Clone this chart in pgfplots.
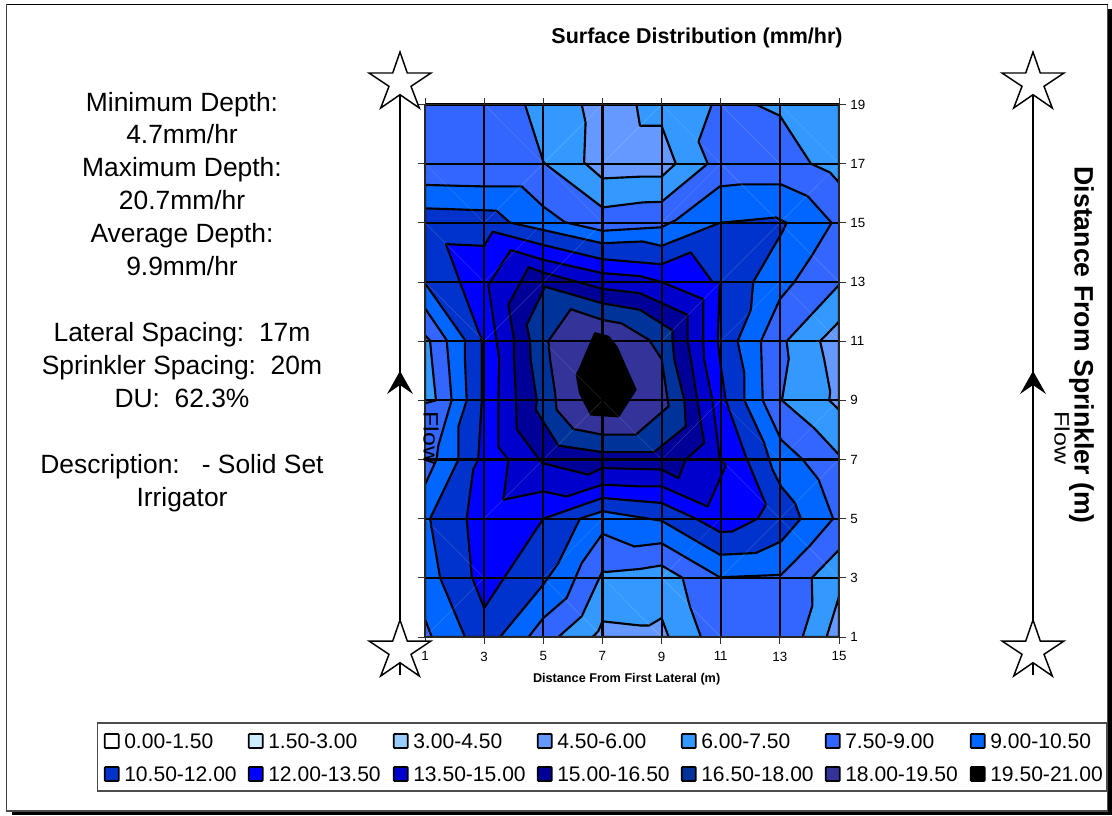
\documentclass[border=0pt]{standalone}
\usepackage{pgfplots}
\usepackage{fontspec}
\setmainfont{Liberation Sans}
\pgfplotsset{compat=1.18}
\definecolor{c00}{HTML}{FFFFFF}
\definecolor{c15}{HTML}{CCECFF}
\definecolor{c30}{HTML}{99CCFF}
\definecolor{c45}{HTML}{6699FF}
\definecolor{c60}{HTML}{3399FF}
\definecolor{c75}{HTML}{3366FF}
\definecolor{c90}{HTML}{0066FF}
\definecolor{c105}{HTML}{0033CC}
\definecolor{c120}{HTML}{0000FF}
\definecolor{c135}{HTML}{0000CC}
\definecolor{c150}{HTML}{000099}
\definecolor{c165}{HTML}{003399}
\definecolor{c180}{HTML}{333399}
\definecolor{c195}{HTML}{000000}
\newcommand{\fsize}[1]{\fontsize{#1}{#1}\selectfont}
\newcommand{\mystar}[2]{%
 \draw[fill=white,line width=1.1pt,line join=miter] (#1,#2) -- ++(7.3,21) -- ++(23.7,0) -- ++(-20,13.3) -- ++(8.3,21.7) -- ++(-19.3,-13.3) -- ++(-19.3,13.3) -- ++(8.3,-21.7) -- ++(-20,-13.3) -- ++(23.7,0) -- cycle;}
\newcommand{\flowline}[1]{%
 \draw[line width=2.1pt,black!55] (#1,385) -- (#1,499);
 \draw[line width=1.1pt] (#1,95) -- (#1,675);
 \fill (#1,371) -- (#1-13,394) -- (#1,385) -- (#1+13,394) -- cycle;
 \mystar{#1}{52}
 \mystar{#1}{620}}
\newcommand{\legitem}[4]{%
 \draw[fill=#3,line width=1.25pt,rounded corners=0.6pt] (#1-0.3,#2-7) rectangle (#1+13.7,#2+7);
 \node[anchor=west,inner sep=0pt] at (#1+19,#2) {\fsize{15.8}#4};}
\newcommand{\side}[2]{\node[anchor=base,inner sep=0pt] at (182,#1+9) {\fsize{19.8}#2};}
\tikzset{contour/.style={draw=black,line width=1.6pt,line join=round,mark=none}}
\begin{document}
\begin{tikzpicture}[x=0.75pt,y=-0.75pt]
\useasboundingbox (0,0) rectangle (1112,815);
% shadow and frame
\fill (12,9) rectangle (1112,815);
\draw[fill=white,line width=0.9pt,draw=black!70] (6.5,4.5) rectangle (1107.5,811);
\draw[line width=1pt] (6.5,4.5) -- (1107.5,4.5);
\draw[line width=1.2pt,black!75] (6.5,4.5) -- (6.5,811);
\coordinate (A) at (425,637);
\begin{axis}[
 at={(A)},anchor=south west,scale only axis,width=310.5pt,height=399.4pt,
 xmin=1,xmax=15,ymin=1,ymax=19,
 xtick={1,3,...,15},ytick={1,3,...,19},
 yticklabel pos=right,tick align=outside,
 major tick length=5pt,
 axis on top,grid=major,
 grid style={black,line width=1.6pt},
 axis line style={black!85,line width=1.3pt},
 tick style={black!80,line width=0.7pt},
 unbounded coords=jump,
 every x tick label/.append style={font=\fsize{10},yshift=-2.5pt},
 every y tick label/.append style={font=\fsize{10}},
 /pgf/number format/assume math mode=true,
 title={\bfseries\fsize{16.1}Surface Distribution (mm/hr)},
 title style={at={(axis description cs:0.657,1.109)},anchor=center},
 xlabel={\bfseries\fsize{9.5}Distance From First Lateral (m)},
 xlabel style={at={(axis description cs:0.487,-0.079)},anchor=center},
 ylabel={\bfseries\fsize{20}Distance From Sprinkler (m)},
 ylabel style={at={(axis description cs:1.586,0.548)},rotate=180,anchor=center},
]
% 7.50-9.00 background
\addplot[fill=c75,draw=none,mark=none] coordinates {(1,1)(15,1)(15,19)(1,19)} --cycle;
% 6.00-7.50 patches
\addplot[contour,fill=c60] coordinates {(4.38,19)(5,17.07)(5.11,16.96)(7,15.52)(8.36,15.69)(9,15.71)(10.56,17)(10.25,17.75)(10.7,19)} --cycle;
\addplot[contour,fill=c60] coordinates {(12.19,19)(13,18.62)(14.05,17)(14.7,16.7)(15,16.36)(15,19)} --cycle;
\addplot[contour,fill=c60] coordinates {(15,12.9)(13.23,11)(13.3,10.4)(13.07,9)(14.16,8.06)(15,7.16)} --cycle;
\addplot[contour,fill=c60] coordinates {(15,3.95)(14.08,3)(14.1,2.06)(13.77,1)(15,1)} --cycle;
\addplot[contour,fill=c60] coordinates {(5.51,1)(6.3,1.7)(7,3.22)(7.14,3.2)(8.27,3.3)(9,3.42)(9.71,3)(9.94,2.09)(10.33,1)} --cycle;
\addplot[contour,fill=c60] coordinates {(1,11.2)(1.17,11.02)(1.23,10.38)(1.37,9)(1,8.9)} --cycle;
% 4.50-6.00 patches
\addplot[contour,fill=c45] coordinates {(6.3,19)(6.43,18.39)(6.38,17.04)(7,16.5)(8.27,16.56)(9,16.56)(9.48,17)(9,18.28)(8.27,18.28)(8.15,19)} --cycle;
\addplot[contour,fill=c45] coordinates {(15,11.66)(14.36,11)(14.5,10.38)(14.7,9.3)(14.67,9)(15,8.68)} --cycle;
\addplot[contour,fill=c45] coordinates {(15,2.37)(14.58,1)(15,1)} --cycle;
\addplot[contour,fill=c45] coordinates {(6.67,1)(6.86,1.2)(7,1.53)(8.27,1.39)(8.58,1.39)(9,1.64)(9.24,1)} --cycle;
% 9.00-10.50
\addplot[contour,fill=c90] coordinates {(1,16.28)(3,16.23)(4.27,16.23)(5,15.55)(5.73,15.02)(7,14.73)(9,14.85)(9.48,15.09)(10.97,16.23)(11.68,16.3)(13.04,16.3)(13.94,15.9)(14.75,15)(14.1,13.92)(13.49,13)(13,12.42)(12.36,11)(12.38,10.38)(12.42,9)(13.04,7.67)(13.77,7)(14.31,6.32)(14.8,5)(13.99,4.06)(13.04,3.1)(10.97,3.02)(9,4.17)(8.08,4.06)(7,4.49)(6.3,3.5)(5.79,2.32)(5,1.64)(4.5,1)(1.23,1)(1,1.6)(1,6.15)(1.39,7)(1.45,7.47)(1.9,9)(1.79,10.38)(1.73,11.04)(1,12.11)} --cycle;
% 10.50-12.00
\addplot[contour,fill=c105] coordinates {(1,15.49)(3.42,15.41)(3.87,15.01)(7,14.31)(8.36,14.37)(9,14.22)(10.97,15)(12.87,15.18)(13.23,15)(13.09,14.7)(12.1,13)(12.02,12.06)(11.57,11)(11.8,9.92)(11.8,9)(12.47,7.56)(12.75,6.66)(13.04,6.09)(13.51,5.53)(13.71,5)(13.04,4.23)(12.19,3.84)(10.97,3.78)(9,4.93)(7,5.25)(6.24,5)(5.51,3.5)(5,2.77)(3.54,1)(2.35,1)(1.51,3)(1.17,5)(2.13,7)(2.13,8.12)(2.41,9)(2.35,10.38)(2.35,11.04)(1,12.96)} --cycle;
% 12.00-13.50
\addplot[contour,fill=c120] coordinates {(1.71,14.28)(3,14.22)(3.29,14.7)(5,14.25)(7,13.77)(9,13.6)(9.99,14)(10.72,13)(10.97,13)(10.9,11)(10.97,10.38)(11.17,9)(11.85,7.1)(12.53,5.47)(12.25,5)(11.4,4.57)(10.97,4.55)(10.16,5)(9,5.53)(7,5.7)(5,5)(3,1.98)(2.58,3.05)(2.41,5)(2.63,6.66)(2.8,7)(2.92,9)(2.92,11.04)(2.18,13)} --cycle;
% 13.50-15.00
\addplot[contour,fill=c135] coordinates {(3.9,14.08)(5,13.75)(7,13.3)(8.27,13.2)(9,13)(10.41,12.42)(10.41,11)(10.44,10.38)(10.72,9)(10.97,7)(11.18,6.82)(10.56,5.41)(9,6.09)(8.27,6.09)(7,6.15)(5.79,5.75)(5,5.92)(3.65,5.64)(3.82,7)(3.48,7.42)(3.48,9)(3.51,10.38)(3.42,11)(3.14,12.9)} --cycle;
% 15.00-16.50
\addplot[contour,fill=c150] coordinates {(4.5,13.5)(5,13.32)(7,12.77)(8.27,12.62)(8.53,12.5)(9.88,11.89)(9.88,11)(9.99,10.38)(10.44,7.56)(9.82,7)(9.57,6.37)(9,6.66)(7,6.71)(6.52,6.49)(4.95,6.88)(4.1,8.03)(4.08,9)(4.01,10.38)(4.01,11.04)(3.82,12.22)} --cycle;
% 16.50-18.00
\addplot[contour,fill=c165] coordinates {(5.06,12.84)(7,12.28)(8.27,12.06)(9.37,11.36)(9.37,11)(9.43,10.38)(9.77,9)(9.82,8.12)(8.75,7.25)(7,7.25)(5.51,7.47)(4.75,8.68)(4.78,9)(4.57,10.38)(4.55,11)(4.44,11.55)} --cycle;
% 18.00-19.50
\addplot[contour,fill=c180] coordinates {(5.93,12.08)(7,11.72)(7.65,11.6)(8.58,11.04)(9,10.4)(9.24,8.8)(8.13,7.84)(7,7.84)(6.02,8.03)(5.45,8.68)(5.4,9.25)(5.23,10.38)(5.17,11)} --cycle;
% 19.50-21.00
\addplot[contour,fill=c195] coordinates {(6.75,11.27)(7.2,11.15)(7.48,10.8)(7.82,10.03)(8.12,9.36)(7.54,8.46)(6.61,8.52)(6.24,9.25)(6.13,9.87)(6.22,10.03)} --cycle;
% faint cell diagonals
\addplot[white,opacity=0.18,line width=0.35pt,mark=none] coordinates {
 (1,17)(3,15)(nan,nan)(3,19)(5,17)(nan,nan)(1,15)(3,13)(nan,nan)(1,13)(3,11)(nan,nan)(5,17)(7,15)(nan,nan)
 (9,19)(11,17)(nan,nan)(11,19)(13,17)(nan,nan)(13,19)(15,17)(nan,nan)(11,17)(13,15)(nan,nan)(13,15)(15,13)(nan,nan)
 (13,13)(15,11)(nan,nan)(5,3)(7,1)(nan,nan)(1,5)(3,3)(nan,nan)(11,9)(13,7)(nan,nan)(11,7)(13,5)(nan,nan)(13,5)(15,3)(nan,nan)
 (9,3)(11,1)(nan,nan)(7,3)(9,1)(nan,nan)(5,11)(7,9)(nan,nan)(7,9)(9,7)(nan,nan)
 (3,15)(5,17)(nan,nan)(3,13)(5,15)(nan,nan)(5,17)(7,19)(nan,nan)(3,11)(5,13)(nan,nan)(5,13)(7,15)(nan,nan)(7,17)(9,19)(nan,nan)
 (9,15)(11,17)(nan,nan)(13,15)(15,17)(nan,nan)(11,13)(13,15)(nan,nan)(11,11)(13,13)(nan,nan)(9,11)(11,13)(nan,nan)(1,1)(3,3)(nan,nan)
 (3,5)(5,7)(nan,nan)(5,7)(7,9)(nan,nan)(5,3)(7,5)(nan,nan)(9,7)(11,9)(nan,nan)(13,7)(15,9)(nan,nan)(13,5)(15,7)(nan,nan)(9,3)(11,5)(nan,nan)(11,3)(13,5)
};
\end{axis}
\flowline{400}
\flowline{1033}
\node[rotate=-90,inner sep=0pt] at (431,438) {\fsize{15.6}\scalebox{1.2}[1]{Flow}};
\node[rotate=-90,inner sep=0pt] at (1062,438) {\fsize{15.6}\scalebox{1.2}[1]{Flow}};
% side text
\side{102}{Minimum Depth:}
\side{134}{4.7mm/hr}
\side{167}{Maximum Depth:}
\side{200}{20.7mm/hr}
\side{233}{Average Depth:}
\side{266}{9.9mm/hr}
\side{332}{Lateral Spacing:\ \ 17m}
\side{365}{Sprinkler Spacing:\ \ 20m}
\side{398}{DU:\ \ 62.3\%}
\side{464}{Description:\ \ \ - Solid Set}
\side{497}{Irrigator}
% legend
\draw[fill=white,line width=0.9pt,draw=black!70] (97.5,723) rectangle (1107,791);
\legitem{105}{741}{c00}{0.00-1.50}
\legitem{249}{741}{c15}{1.50-3.00}
\legitem{394}{741}{c30}{3.00-4.50}
\legitem{538}{741}{c45}{4.50-6.00}
\legitem{682}{741}{c60}{6.00-7.50}
\legitem{826}{741}{c75}{7.50-9.00}
\legitem{971}{741}{c90}{9.00-10.50}
\legitem{105}{774}{c105}{10.50-12.00}
\legitem{249}{774}{c120}{12.00-13.50}
\legitem{394}{774}{c135}{13.50-15.00}
\legitem{538}{774}{c150}{15.00-16.50}
\legitem{682}{774}{c165}{16.50-18.00}
\legitem{826}{774}{c180}{18.00-19.50}
\legitem{971}{774}{c195}{19.50-21.00}
\end{tikzpicture}
\end{document}
